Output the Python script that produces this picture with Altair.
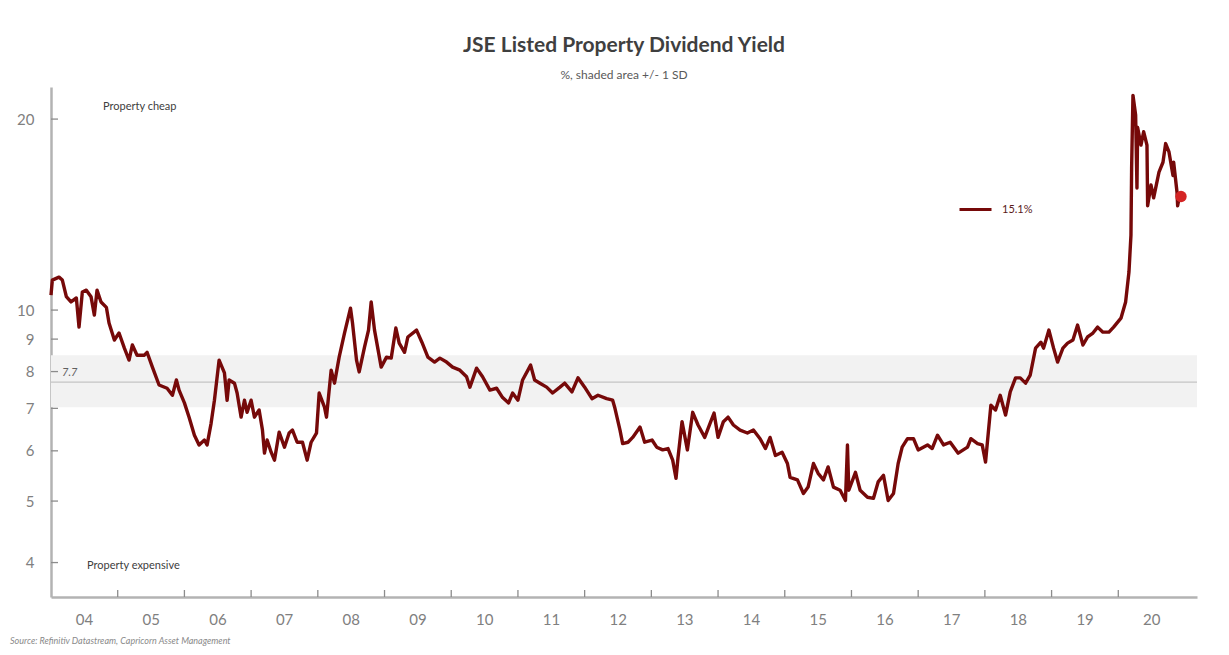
import altair as alt
import pandas as pd

TITLE = "JSE Listed Property Dividend Yield"
SUBTITLE = "%, shaded area +/- 1 SD"
SOURCE = "Source: Refinitiv Datastream, Capricorn Asset Management"
NOTE_TOP = "Property cheap"
NOTE_BOTTOM = "Property expensive"
LATEST_LABEL = "15.1%"

# time in fractional years, dividend yield in %
years = [
    2004.00, 2004.02, 2004.12, 2004.17, 2004.23, 2004.30, 2004.38, 2004.42, 2004.47, 2004.53,
    2004.60, 2004.65, 2004.69, 2004.75, 2004.83, 2004.87, 2004.95, 2005.02, 2005.10, 2005.17,
    2005.22, 2005.29, 2005.40, 2005.44, 2005.52, 2005.62, 2005.74, 2005.82, 2005.88, 2005.92,
    2006.00, 2006.07, 2006.15, 2006.22, 2006.30, 2006.34, 2006.40, 2006.45, 2006.52, 2006.60,
    2006.64, 2006.67, 2006.75, 2006.79, 2006.85, 2006.90, 2006.94, 2007.00, 2007.05, 2007.12,
    2007.17, 2007.20, 2007.24, 2007.30, 2007.35, 2007.42, 2007.50, 2007.57, 2007.62, 2007.69,
    2007.77, 2007.84, 2007.90, 2007.98, 2008.02, 2008.10, 2008.13, 2008.20, 2008.25, 2008.32,
    2008.40, 2008.49, 2008.52, 2008.58, 2008.62, 2008.70, 2008.76, 2008.80, 2008.85, 2008.95,
    2009.03, 2009.10, 2009.17, 2009.22, 2009.30, 2009.35, 2009.48, 2009.56, 2009.65, 2009.75,
    2009.83, 2009.93, 2010.02, 2010.13, 2010.23, 2010.28, 2010.38, 2010.47, 2010.58, 2010.68,
    2010.77, 2010.86, 2010.92, 2011.00, 2011.07, 2011.19, 2011.25, 2011.33, 2011.43, 2011.52,
    2011.63, 2011.70, 2011.81, 2011.90, 2012.00, 2012.11, 2012.20, 2012.33, 2012.42, 2012.45,
    2012.53, 2012.57, 2012.65, 2012.72, 2012.83, 2012.90, 2013.01, 2013.08, 2013.17, 2013.25,
    2013.32, 2013.37, 2013.40, 2013.46, 2013.54, 2013.62, 2013.70, 2013.80, 2013.88, 2013.94,
    2014.00, 2014.08, 2014.15, 2014.23, 2014.33, 2014.44, 2014.53, 2014.63, 2014.71, 2014.78,
    2014.86, 2014.96, 2015.04, 2015.08, 2015.19, 2015.28, 2015.35, 2015.43, 2015.50, 2015.58,
    2015.65, 2015.73, 2015.83, 2015.91, 2015.94, 2015.96, 2016.06, 2016.13, 2016.24, 2016.33,
    2016.40, 2016.48, 2016.55, 2016.63, 2016.70, 2016.76, 2016.84, 2016.93, 2017.00, 2017.14,
    2017.21, 2017.29, 2017.38, 2017.48, 2017.60, 2017.74, 2017.79, 2017.89, 2017.96, 2018.01,
    2018.09, 2018.16, 2018.23, 2018.31, 2018.38, 2018.46, 2018.53, 2018.61, 2018.68, 2018.76,
    2018.84, 2018.88, 2018.96, 2019.03, 2019.09, 2019.17, 2019.24, 2019.32, 2019.39, 2019.47,
    2019.54, 2019.62, 2019.69, 2019.77, 2019.86, 2019.93, 2020.04, 2020.11, 2020.16, 2020.19,
    2020.20, 2020.22, 2020.26, 2020.28, 2020.29, 2020.34, 2020.38, 2020.43, 2020.44, 2020.49,
    2020.53, 2020.61, 2020.67, 2020.71, 2020.76, 2020.82, 2020.83, 2020.88, 2020.89, 2020.92,
    2020.94,
]
yield_pct = [
    10.56, 11.15, 11.27, 11.15, 10.50, 10.30, 10.45, 9.40, 10.68, 10.75,
    10.50, 9.82, 10.75, 10.30, 10.10, 9.54, 8.97, 9.20, 8.71, 8.34,
    8.81, 8.49, 8.49, 8.58, 8.13, 7.62, 7.53, 7.34, 7.76, 7.48,
    7.14, 6.78, 6.35, 6.13, 6.24, 6.13, 6.63, 7.21, 8.34, 7.96,
    7.21, 7.76, 7.67, 7.40, 6.78, 7.21, 6.90, 7.21, 6.78, 6.96,
    6.47, 5.95, 6.24, 5.97, 5.80, 6.42, 6.08, 6.40, 6.47, 6.19,
    6.19, 5.80, 6.19, 6.40, 7.40, 7.03, 6.78, 8.04, 7.67, 8.43,
    9.20, 10.07, 9.54, 8.34, 7.99, 8.74, 9.30, 10.30, 9.30, 8.13,
    8.43, 8.40, 9.37, 8.87, 8.58, 9.07, 9.30, 8.90, 8.43, 8.28,
    8.40, 8.28, 8.13, 8.04, 7.85, 7.56, 8.10, 7.85, 7.48, 7.53,
    7.28, 7.14, 7.40, 7.21, 7.76, 8.19, 7.76, 7.67, 7.56, 7.40,
    7.56, 7.67, 7.43, 7.82, 7.56, 7.25, 7.34, 7.25, 7.21, 7.03,
    6.47, 6.16, 6.19, 6.30, 6.54, 6.19, 6.24, 6.08, 6.02, 6.05,
    5.80, 5.43, 5.86, 6.67, 6.02, 6.90, 6.59, 6.30, 6.63, 6.88,
    6.30, 6.67, 6.78, 6.59, 6.47, 6.40, 6.47, 6.27, 6.05, 6.30,
    5.90, 5.97, 5.73, 5.45, 5.40, 5.14, 5.26, 5.73, 5.53, 5.40,
    5.66, 5.26, 5.20, 5.01, 6.13, 5.20, 5.55, 5.20, 5.07, 5.05,
    5.36, 5.49, 5.01, 5.14, 5.73, 6.08, 6.27, 6.27, 6.02, 6.13,
    6.05, 6.35, 6.13, 6.19, 5.95, 6.08, 6.27, 6.16, 6.13, 5.76,
    7.08, 6.96, 7.34, 6.83, 7.43, 7.82, 7.82, 7.67, 7.90, 8.71,
    8.90, 8.71, 9.30, 8.71, 8.28, 8.71, 8.87, 8.97, 9.47, 8.81,
    9.07, 9.20, 9.40, 9.23, 9.23, 9.40, 9.71, 10.30, 11.48, 13.13,
    16.75, 21.80, 20.30, 15.57, 19.40, 18.20, 19.10, 18.20, 14.60, 15.75,
    15.03, 16.50, 17.10, 18.30, 17.75, 16.30, 17.10, 15.35, 14.60, 15.20,
    15.10,
]

label_years = list(range(2004, 2021))
tick_years = list(range(2005, 2021))
y_ticks = [4, 5, 6, 7, 8, 9, 10, 20]
MEAN = 7.7
SD_LOW = 7.03
SD_HIGH = 8.49

W, H = 1146, 510
FONT = "Lato"
AXIS_GREY = "#b3b3b3"
LINE_RED = "#760909"

xscale = alt.Scale(domain=[2004.0, 2021.18], nice=False, zero=False)
yscale = alt.Scale(type="log", domain=[3.53, 22.47], nice=False)

df = pd.DataFrame({"year": years, "dy": yield_pct, "series": LATEST_LABEL})

band = alt.Chart(pd.DataFrame({"lo": [SD_LOW], "hi": [SD_HIGH]})).mark_rect(color="#f2f2f2").encode(
    x=alt.value(0), x2=alt.value(W),
    y=alt.Y("lo:Q", scale=yscale, title=None), y2="hi:Q",
)

mean_df = pd.DataFrame({"m": [MEAN], "lab": [str(MEAN)]})
mean_rule = alt.Chart(mean_df).mark_rule(color="#c4c4c4", strokeWidth=1.2).encode(
    y=alt.Y("m:Q", scale=yscale, title=None),
)
mean_text = alt.Chart(mean_df).mark_text(
    align="left", baseline="middle", dy=-9, fontSize=11, fontStyle="italic",
    font=FONT, color="#606060",
).encode(y=alt.Y("m:Q", scale=yscale, title=None), x=alt.value(11), text="lab:N")

line = alt.Chart(df).mark_line(strokeWidth=3.4, strokeJoin="round").encode(
    x=alt.X("year:Q", scale=xscale, title=None,
            axis=alt.Axis(values=label_years, labelExpr="slice(toString(datum.value), 2)",
                          ticks=False, grid=False, labelOffset=33, labelFlush=False,
                          labelOverlap=False, labelBound=False, labelPadding=15,
                          labelFontSize=15, labelFont=FONT, labelColor="#808080",
                          domainColor=AXIS_GREY, domainWidth=2.5)),
    y=alt.Y("dy:Q", scale=yscale, title=None,
            axis=alt.Axis(values=y_ticks, format="d", ticks=False, grid=False,
                          labelPadding=17, labelFontSize=15, labelFont=FONT,
                          labelColor="#808080", domainColor=AXIS_GREY, domainWidth=2.5)),
    color=alt.Color("series:N", scale=alt.Scale(domain=[LATEST_LABEL], range=[LINE_RED]),
                    legend=alt.Legend(orient="none", legendX=907, legendY=105, title=None,
                                      symbolType="stroke", symbolSize=1024,
                                      symbolStrokeWidth=3, labelFontSize=11, labelFont=FONT,
                                      labelColor="#5a1a1a", labelOffset=9, padding=0)),
)

dot = alt.Chart(df.tail(1)).mark_circle(size=130, color="#d42424", opacity=1).encode(
    x=alt.X("year:Q", scale=xscale, title=None), y=alt.Y("dy:Q", scale=yscale, title=None),
)

xticks = alt.Chart(pd.DataFrame({"year": tick_years})).mark_rule(color="#8c8c8c", strokeWidth=1.3).encode(
    x=alt.X("year:Q", scale=xscale, title=None), y=alt.value(H), y2=alt.value(H - 7),
)
yticks = alt.Chart(pd.DataFrame({"v": y_ticks})).mark_rule(color="#8c8c8c", strokeWidth=1.3).encode(
    y=alt.Y("v:Q", scale=yscale, title=None), x=alt.value(0), x2=alt.value(7),
)

note_top = alt.Chart(pd.DataFrame({"t": [NOTE_TOP]})).mark_text(
    align="left", baseline="middle", fontSize=11, font=FONT, color="#404040",
).encode(x=alt.value(52), y=alt.value(20), text="t:N")
note_bottom = alt.Chart(pd.DataFrame({"t": [NOTE_BOTTOM]})).mark_text(
    align="left", baseline="middle", fontSize=11, font=FONT, color="#404040",
).encode(x=alt.value(36), y=alt.value(479), text="t:N")
source = alt.Chart(pd.DataFrame({"t": [SOURCE]})).mark_text(
    align="left", baseline="middle", fontSize=9, font=FONT, fontStyle="italic", color="#8a8a8a",
).encode(x=alt.value(-41), y=alt.value(554), text="t:N")

chart = alt.layer(
    band, mean_rule, mean_text, line, dot, xticks, yticks, note_top, note_bottom, source
).properties(
    width=W, height=H,
    padding={"left": 43, "top": 79, "right": 24, "bottom": 50},
    autosize=alt.AutoSizeParams(type="none"),
    title=alt.TitleParams(
        text=TITLE, subtitle=SUBTITLE, anchor="middle", font=FONT, fontSize=21,
        fontWeight="bold", color="#3f3f3f", subtitleFont=FONT, subtitleFontSize=12,
        subtitleColor="#595959", subtitlePadding=14, offset=6,
    ),
).configure_view(stroke=None)

chart.save("out.html", embed_options={"renderer": "svg", "actions": False})
